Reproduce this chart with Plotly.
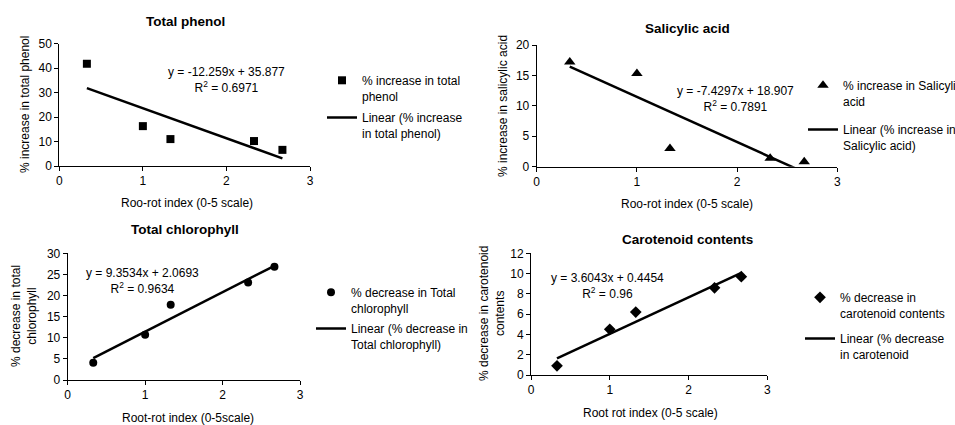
import plotly.graph_objects as go

W, H = 955, 425
FONT = "Liberation Sans, Arial, sans-serif"

# ---------------- data ----------------
root_rot_index = [0.33, 1.0, 1.33, 2.33, 2.67]

phenol_increase = [41.8, 16.3, 11.0, 10.2, 6.6]
salicylic_increase = [17.2, 15.3, 3.0, 1.4, 0.8]
chlorophyll_decrease = [4.1, 10.7, 17.8, 23.1, 26.8]
carotenoid_decrease = [0.9, 4.5, 6.2, 8.6, 9.7]

# linear trend coefficients shown on the chart (slope, intercept)
phenol_fit = [-12.259, 35.877]
salicylic_fit = [-7.4297, 18.907]
chlorophyll_fit = [9.3534, 2.0693]
carotenoid_fit = [3.6043, 0.4454]

phenol_r2 = "0.6971"
salicylic_r2 = "0.7891"
chlorophyll_r2 = "0.9634"
carotenoid_r2 = "0.96"

x_ticks = [0, 1, 2, 3]


def px(x):
    return x / W


def py(y):
    return 1 - y / H


panels = [
    dict(
        title="Total phenol", title_pos=(185, 22),
        y=phenol_increase, fit=phenol_fit, r2=phenol_r2,
        symbol="square", msize=8,
        xdom=(59.3, 310), ydom=(43.7, 166), yrange=[0, 50], ydtick=10,
        ytitle="% increase in total phenol", ytitle_pos=(25, 105),
        xtitle="Roo-rot index (0-5 scale)", xtitle_pos=(187, 203),
        eq_pos=(226, 80),
        leg_name="% increase in total<br>phenol",
        leg_lin="Linear (% increase<br>in total phenol)",
        leg_pos=(322, 66), leg_gap=3,
    ),
    dict(
        title="Salicylic acid", title_pos=(687, 28),
        y=salicylic_increase, fit=salicylic_fit, r2=salicylic_r2,
        symbol="triangle-up", msize=10,
        xdom=(536.7, 837.3), ydom=(45, 166.7), yrange=[0, 20], ydtick=5,
        ytitle="% increase in salicylic acid", ytitle_pos=(503, 106),
        xtitle="Roo-rot index (0-5 scale)", xtitle_pos=(687, 204),
        eq_pos=(735, 99),
        leg_name="% increase in Salicylic<br>acid",
        leg_lin="Linear (% increase in<br>Salicylic acid)",
        leg_pos=(803, 71), leg_gap=10,
    ),
    dict(
        title="Total chlorophyll", title_pos=(185, 230),
        y=chlorophyll_decrease, fit=chlorophyll_fit, r2=chlorophyll_r2,
        symbol="circle", msize=8,
        xdom=(67.7, 300), ydom=(253.3, 380), yrange=[0, 30], ydtick=5,
        ytitle="% decrease in total<br>chlorophyll", ytitle_pos=(24, 316),
        xtitle="Root-rot index (0-5scale)", xtitle_pos=(188, 418),
        eq_pos=(142, 281),
        leg_name="% decrease in Total<br>chlorophyll",
        leg_lin="Linear (% decrease in<br>Total chlorophyll)",
        leg_pos=(311, 278), leg_gap=2,
    ),
    dict(
        title="Carotenoid contents", title_pos=(687, 239),
        y=carotenoid_decrease, fit=carotenoid_fit, r2=carotenoid_r2,
        symbol="diamond", msize=9,
        xdom=(531, 767.3), ydom=(253.3, 375), yrange=[0, 12], ydtick=2,
        ytitle="% decrease in carotenoid<br>contents", ytitle_pos=(492, 314),
        xtitle="Root rot index (0-5 scale)", xtitle_pos=(650, 413),
        eq_pos=(607, 285.5),
        leg_name="% decrease in<br>carotenoid contents",
        leg_lin="Linear (% decrease<br>in carotenoid",
        leg_pos=(800, 283), leg_gap=7,
    ),
]

fig = go.Figure()
layout = dict(
    width=W, height=H,
    margin=dict(l=0, r=0, t=0, b=0, autoexpand=False),
    paper_bgcolor="white", plot_bgcolor="white",
    font=dict(family=FONT, size=12, color="black"),
    annotations=[],
)

for i, p in enumerate(panels):
    n = "" if i == 0 else str(i + 1)
    xa, ya = "x" + n, "y" + n
    leg = "legend" + n
    xs = root_rot_index
    x0, x1 = min(xs), max(xs)
    slope, icpt = p["fit"]
    fig.add_trace(go.Scatter(
        x=xs, y=p["y"], mode="markers", xaxis=xa, yaxis=ya,
        marker=dict(symbol=p["symbol"], size=p["msize"], color="black"),
        name=p["leg_name"], legend=leg, legendgroup="pts%d" % i,
        cliponaxis=False,
    ))
    fig.add_trace(go.Scatter(
        x=[x0, x1], y=[slope * x0 + icpt, slope * x1 + icpt], mode="lines",
        xaxis=xa, yaxis=ya, line=dict(color="black", width=2.5),
        name=p["leg_lin"], legend=leg, legendgroup="fit%d" % i,
    ))
    axis_common = dict(
        showline=True, linecolor="black", linewidth=1, ticks="outside",
        ticklen=4, tickcolor="black", showgrid=False, zeroline=False,
        tickfont=dict(family=FONT, size=12, color="black"),
        fixedrange=True,
    )
    layout["xaxis" + n] = dict(
        axis_common, domain=[px(p["xdom"][0]), px(p["xdom"][1])],
        range=[0, 3], tickvals=x_ticks, anchor=ya,
    )
    layout["yaxis" + n] = dict(
        axis_common, domain=[py(p["ydom"][1]), py(p["ydom"][0])],
        range=p["yrange"], dtick=p["ydtick"], tick0=0, anchor=xa,
    )
    layout[leg] = dict(
        x=px(p["leg_pos"][0]), y=py(p["leg_pos"][1]),
        xanchor="left", yanchor="top", valign="top",
        bgcolor="rgba(0,0,0,0)", borderwidth=0,
        font=dict(family=FONT, size=12, color="black"),
        itemwidth=30, tracegroupgap=p["leg_gap"],
    )
    ann = layout["annotations"]
    ann.append(dict(text="<b>%s</b>" % p["title"], x=px(p["title_pos"][0]),
                    y=py(p["title_pos"][1]), font=dict(size=13.5)))
    ann.append(dict(text=p["ytitle"], x=px(p["ytitle_pos"][0]),
                    y=py(p["ytitle_pos"][1]), textangle=-90))
    ann.append(dict(text=p["xtitle"], x=px(p["xtitle_pos"][0]),
                    y=py(p["xtitle_pos"][1])))
    sign = "+" if icpt >= 0 else "-"
    eq = "y = %gx %s %g<br>R<sup>2</sup> = %s" % (slope, sign, abs(icpt), p["r2"])
    ann.append(dict(text=eq, x=px(p["eq_pos"][0]), y=py(p["eq_pos"][1])))

for a in layout["annotations"]:
    a.update(xref="paper", yref="paper", showarrow=False,
             xanchor="center", yanchor="middle")

fig.update_layout(**layout)
fig.write_html(
    "out.html",
    config={"displayModeBar": False, "staticPlot": True},
    post_script="document.body.style.margin='0';document.body.style.overflow='hidden';",
)
